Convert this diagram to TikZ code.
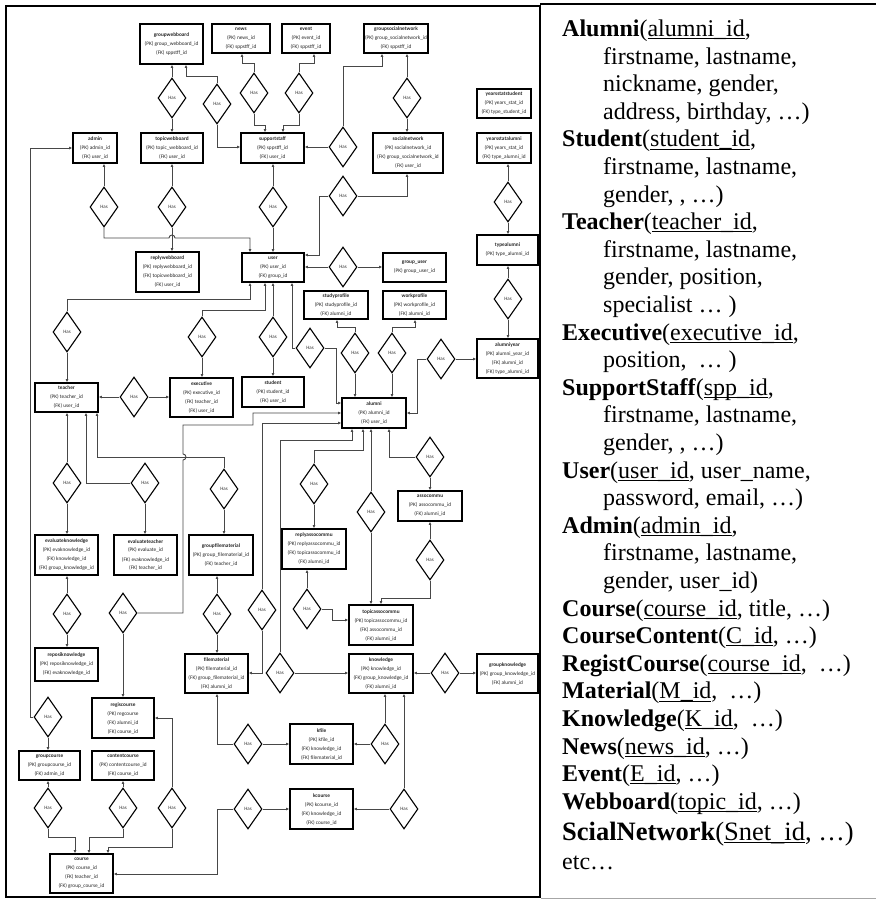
\documentclass[tikz,border=0pt]{standalone}
\usepackage{fontspec}
\setmainfont{Liberation Serif}
\newfontfamily\erfont{Carlito}
\usetikzlibrary{arrows.meta,shapes.geometric}

% underlined key attribute
\newcommand\ulid[1]{\setbox0\hbox{#1}\rlap{\rule[-2.6pt]{\wd0}{1pt}}\box0}

\tikzset{
  ent/.style={draw=black, line width=1.3pt, fill=white, inner sep=0pt, align=center,
              font=\erfont\fontsize{5.3}{9}\selectfont, text=black!85},
  relbox/.style={diamond, draw=black, line width=1.1pt, fill=white, inner sep=0pt,
              minimum width=28pt, minimum height=40pt,
              font=\erfont\fontsize{5}{6}\selectfont, text=black!80},
  link/.style={draw=black!72, line width=0.9pt},
  arr/.style={-{Latex[length=3.2pt,width=2.8pt]}},
  rtxt/.style={anchor=base west, inner sep=0pt, font=\fontsize{24}{27.6}\selectfont},
}

% entity box: name, x1, y1, x2, y2, text
\newcommand\entity[6]{\node[ent, minimum width={#4-#2}, minimum height={#5-#3}]
  (#1) at ({(#2+#4)/2},{(#3+#5)/2}) {#6};}
% relationship diamond: name, x, y
\newcommand\hasrel[3]{\node[relbox] (#1) at (#2,#3) {Has};}

\begin{document}
\begin{tikzpicture}[x=1pt,y=-1pt]
\useasboundingbox (0,0) rectangle (876,900);

% panel frames
\draw[line width=2.4pt] (6,6) rectangle (540,897);
\draw[line width=2pt] (540,4) -- (876,4);
\draw[black!35, line width=1pt] (541,898) -- (876,898);

% ---------- entities ----------
\entity{gwb}{140}{24}{203}{64}{\textbf{groupwebboard}\\(PK) group\_webboard\_id\\(FK) sppstff\_id}
\entity{news}{212}{24}{270}{53}{\textbf{news}\\(PK) news\_id\\(FK) sppstff\_id}
\entity{event}{282}{24}{330}{53}{\textbf{event}\\(PK) event\_id\\(FK) sppstff\_id}
\entity{gsn}{364}{24}{428}{53}{\textbf{groupsocialnetwork}\\(PK) group\_socialnetwork\_id\\(FK) sppstff\_id}
\entity{ystu}{477}{89}{531}{118}{\textbf{yearsstatstudent}\\(PK) years\_stat\_id\\(FK) type\_student\_id}
\entity{admin}{73}{133}{117}{163}{\textbf{admin}\\(PK) admin\_id\\(FK) user\_id}
\entity{twb}{141}{133}{203}{163}{\textbf{topicwebboard}\\(PK) topic\_webboard\_id\\(FK) user\_id}
\entity{ss}{241}{133}{304}{163}{\textbf{supportstaff}\\(PK) sppstff\_id\\(FK) user\_id}
\entity{sn}{373}{133}{443}{173}{\textbf{socialnetwork}\\(PK) socialnetwork\_id\\(FK) group\_socialnetwork\_id\\(FK) user\_id}
\entity{ysal}{477}{133}{531}{163}{\textbf{yearsstatalumni}\\(PK) years\_stat\_id\\(FK) type\_alumni\_id}
\entity{ta}{477}{235}{538}{265}{\textbf{typealumni}\\(PK) type\_alumni\_id}
\entity{rwb}{136}{252}{199}{292}{\textbf{replywebboard}\\(PK) replywebboard\_id\\(FK) topicwebboard\_id\\(FK) user\_id}
\entity{user}{242}{253}{304}{282}{\textbf{user}\\(PK) user\_id\\(FK) group\_id}
\entity{gu}{383}{253}{446}{282}{\textbf{group\_user}\\(PK) group\_user\_id}
\entity{sp}{304}{291}{368}{319}{\textbf{studyprofile}\\(PK) studyprofile\_id\\(FK) alumni\_id}
\entity{wp}{383}{291}{446}{319}{\textbf{workprofile}\\(PK) workprofile\_id\\(FK) alumni\_id}
\entity{ay}{477}{339}{538}{378}{\textbf{alumniyear}\\(PK) alumni\_year\_id\\(FK) alumni\_id\\(FK) type\_alumni\_id}
\entity{student}{242}{377}{304}{407}{\textbf{student}\\(PK) student\_id\\(FK) user\_id}
\entity{exec}{170}{378}{233}{417}{\textbf{executive}\\(PK) executive\_id\\(FK) teacher\_id\\(FK) user\_id}
\entity{teacher}{35}{383}{98}{412}{\textbf{teacher}\\(PK) teacher\_id\\(FK) user\_id}
\entity{alumni}{342}{398}{406}{428}{\textbf{alumni}\\(PK) alumni\_id\\(FK) user\_id}
\entity{ac}{398}{491}{462}{521}{\textbf{assocommu}\\(PK) assocommu\_id\\(FK) alumni\_id}
\entity{rac}{282}{529}{346}{569}{\textbf{replyassocommu}\\(PK) replyassocommu\_id\\(FK) topicassocommu\_id\\(FK) alumni\_id}
\entity{ek}{35}{535}{98}{575}{\textbf{evaluateknowledge}\\(PK) evaknowledge\_id\\(FK) knowledge\_id\\(FK) group\_knowledge\_id}
\entity{et}{114}{535}{177}{575}{\textbf{evaluateteacher}\\(PK) evaluate\_id\\(FK) evaknowledge\_id\\(FK) teacher\_id}
\entity{gfm}{189}{535}{253}{575}{\textbf{groupfilematerial}\\(PK) group\_filematerial\_id\\(FK) teacher\_id}
\entity{tac}{349}{605}{413}{645}{\textbf{topicassocommu}\\(PK) topicassocommu\_id\\(FK) assocommu\_id\\(FK) alumni\_id}
\entity{rk}{35}{648}{98}{681}{\textbf{reposiknowledge}\\(PK) reposiknowledge\_id\\(FK) evaknowledge\_id}
\entity{fm}{185}{654}{248}{693}{\textbf{filematerial}\\(PK) filematerial\_id\\(FK) group\_filematerial\_id\\(FK) alumni\_id}
\entity{kn}{349}{654}{413}{693}{\textbf{knowledge}\\(PK) knowledge\_id\\(FK) group\_knowledge\_id\\(FK) alumni\_id}
\entity{gk}{477}{654}{538}{693}{\textbf{groupknowledge}\\(PK) group\_knowledge\_id\\(FK) alumni\_id}
\entity{rc}{92}{698}{154}{738}{\textbf{regiscourse}\\(PK) regcourse\\(FK) alumni\_id\\(FK) course\_id}
\entity{kfile}{290}{724}{353}{764}{\textbf{kfile}\\(PK) kfile\_id\\(FK) knowledge\_id\\(FK) filematerial\_id}
\entity{gc}{19}{751}{80}{780}{\textbf{groupcourse}\\(PK) groupcourse\_id\\(FK) admin\_id}
\entity{cc}{92}{751}{154}{780}{\textbf{contentcourse}\\(PK) contentcourse\_id\\(FK) course\_id}
\entity{kcourse}{290}{789}{353}{829}{\textbf{kcourse}\\(PK) kcourse\_id\\(FK) knowledge\_id\\(FK) course\_id}
\entity{course}{50}{854}{113}{893}{\textbf{course}\\(PK) course\_id\\(FK) teacher\_id\\(FK) group\_course\_id}

% ---------- relationships ----------
\hasrel{d1}{172}{98}   \hasrel{d2}{217}{104}  \hasrel{d3}{254}{93}
\hasrel{d4}{299}{93}   \hasrel{d5}{343}{147}  \hasrel{d6}{407}{98}
\hasrel{d7}{343}{196}  \hasrel{d8}{104}{207}  \hasrel{d9}{172}{207}
\hasrel{d10}{273}{207} \hasrel{d11}{508}{202} \hasrel{d12}{343}{267}
\hasrel{d13}{508}{299} \hasrel{d14}{67}{332}  \hasrel{d15}{202}{337}
\hasrel{d16}{273}{337} \hasrel{d17}{310}{348} \hasrel{d18}{355}{353}
\hasrel{d19}{392}{353} \hasrel{d20}{441}{359} \hasrel{d21}{134}{397}
\hasrel{d22}{430}{457} \hasrel{d23}{314}{484} \hasrel{d24}{67}{483}
\hasrel{d25}{145}{483} \hasrel{d26}{224}{489} \hasrel{d27}{371}{512}
\hasrel{d28}{430}{560} \hasrel{d29}{307}{609} \hasrel{d30}{123}{613}
\hasrel{d31}{262}{610} \hasrel{d32}{217}{614} \hasrel{d33}{67}{614}
\hasrel{d34}{280}{673} \hasrel{d35}{445}{673} \hasrel{d36}{48}{717}
\hasrel{d37}{248}{744} \hasrel{d38}{385}{744} \hasrel{d39}{48}{808}
\hasrel{d40}{123}{808} \hasrel{d41}{172}{808} \hasrel{d42}{248}{809}
\hasrel{d43}{404}{809}

% ---------- connectors ----------
\draw[link,arr] (d1.north) -- (gwb.south -| d1);
\draw[link,arr] (d1.south) -- (twb.north -| d1);
\draw[link,arr] (d2.north) |- (186,76) -- (gwb.south -| 186,0);
\draw[link,arr] (d2.south) |- (ss.west |- 0,147);
\draw[link,arr] (d3.north) |- (242,63) -- (news.south -| 242,0);
\draw[link,arr] (d3.south) |- (265,125) -- (ss.north -| 265,0);
\draw[link,arr] (d4.north) |- (314,63) -- (event.south -| 314,0);
\draw[link,arr] (d4.south) |- (283,125) -- (ss.north -| 283,0);
\draw[link,arr] (d5.west) -- (ss.east |- d5);
\draw[link,arr] (d5.north) |- (382,66) -- (gsn.south -| 382,0);
\draw[link,arr] (d6.north) -- (gsn.south -| d6);
\draw[link,arr] (d6.south) -- (sn.north -| d6);
\draw[link,arr] (d7.east) -| (sn.south -| 407,0);
\draw[link,arr] (d7.west) -| (319,255) -- (user.east |- 0,255);
\draw[link,arr] (d8.north) -- (admin.south -| d8);
\draw[link,arr] (d8.south) -- (104,238) -- (169,238) arc (180:360:3) -- (250,238) -- (user.north -| 250,0);
\draw[link,arr] (d9.north) -- (twb.south -| d9);
\draw[link,arr] (d9.south) -- (rwb.north -| d9);
\draw[link,arr] (d10.north) -- (ss.south -| d10);
\draw[link,arr] (d10.south) -- (user.north -| d10);
\draw[link,arr] (d11.north) -- (ysal.south -| d11);
\draw[link,arr] (d11.south) -- (ta.north -| d11);
\draw[link,arr] (d12.west) -- (user.east |- d12);
\draw[link,arr] (d12.east) -- (gu.west |- d12);
\draw[link,arr] (d13.north) -- (ta.south -| d13);
\draw[link,arr] (d13.south) -- (ay.north -| d13);
\draw[link,arr] (d14.north) |- (250,299) -- (user.south -| 250,0);
\draw[link,arr] (d14.south) -- (teacher.north -| d14);
\draw[link,arr] (d15.north) |- (265,310) -- (user.south -| 265,0);
\draw[link,arr] (d15.south) -- (exec.north -| d15);
\draw[link,arr] (d16.north) -- (user.south -| d16);
\draw[link,arr] (d16.south) -- (student.north -| d16);
\draw[link,arr] (d17.west) -| (user.south -| 292,0);
\draw[link,arr] (d17.east) -| (336,403) -- (alumni.west |- 0,403);
\draw[link,arr] (d18.north) |- (337,327) -- (sp.south -| 337,0);
\draw[link,arr] (d18.south) -- (alumni.north -| d18);
\draw[link,arr] (d19.north) |- (415,327) -- (wp.south -| 415,0);
\draw[link,arr] (d19.south) -- (alumni.north -| d19);
\draw[link,arr] (d20.east) -- (ay.west |- d20);
\draw[link,arr] (d20.west) -| (417,413) -- (alumni.east |- 0,413);
\draw[link,arr] (d21.west) -- (teacher.east |- d21);
\draw[link,arr] (d21.east) -- (exec.west |- d21);
\draw[link,arr] (d22.west) -| (alumni.south -| 389,0);
\draw[link,arr] (d22.south) -- (ac.north -| d22);
\draw[link,arr] (d23.north) |- (363,450) -- (alumni.south -| 363,0);
\draw[link,arr] (d23.south) -- (rac.north -| d23);
\draw[link,arr] (d24.north) -- (teacher.south -| d24);
\draw[link,arr] (d24.south) -- (ek.north -| d24);
\draw[link,arr] (d25.west) -| (teacher.south -| 86,0);
\draw[link,arr] (d25.south) -- (et.north -| d25);
\draw[link,arr] (d26.north) |- (97,457) -- (teacher.south -| 97,0);
\draw[link,arr] (d26.south) -- (gfm.north -| d26);
\draw[link,arr] (d27.north) -- (alumni.south -| d27);
\draw[link,arr] (d27.south) -- (tac.north -| d27);
\draw[link,arr] (d28.north) -- (ac.south -| d28);
\draw[link,arr] (d28.south) |- (381,598) -- (tac.north -| 381,0);
\draw[link,arr] (d29.north) -- (rac.south -| d29);
\draw[link,arr] (d29.east) -| (332,620) -- (tac.west |- 0,620);
\draw[link,arr] (d30.east) -| (183,460) arc (90:-90:3) -- (183,425) -| (253,413) -- (alumni.west |- 0,413);
\draw[link,arr] (d30.south) -- (rc.north -| d30);
\draw[link,arr] (d31.north) |- (alumni.west |- 0,423);
\draw[link,arr] (d31.south) |- (fm.east |- 0,673);
\draw[link,arr] (d32.north) -- (gfm.south -| d32);
\draw[link,arr] (d32.south) -- (fm.north -| d32);
\draw[link,arr] (d33.north) -- (ek.south -| d33);
\draw[link,arr] (d33.south) -- (rk.north -| d33);
\draw[link,arr] (d34.north) |- (352,440) -- (alumni.south -| 352,0);
\draw[link,arr] (d34.east) -- (kn.west |- d34);
\draw[link,arr] (d35.west) -- (kn.east |- d35);
\draw[link,arr] (d35.east) -- (gk.west |- d35);
\draw[link,arr] (d36.west) -| (30,148) -- (admin.west |- 0,148);
\draw[link,arr] (d36.south) -- (gc.north -| d36);
\draw[link,arr] (d37.west) -| (fm.south -| 217,0);
\draw[link,arr] (d37.east) -- (kfile.west |- d37);
\draw[link,arr] (d38.west) -- (kfile.east |- d38);
\draw[link,arr] (d38.north) -- (kn.south -| d38);
\draw[link,arr] (d39.north) -- (gc.south -| d39);
\draw[link,arr] (d39.south) |- (75,837) -- (course.north -| 75,0);
\draw[link,arr] (d40.north) -- (cc.south -| d40);
\draw[link,arr] (d40.south) |- (89,837) -- (course.north -| 89,0);
\draw[link,arr] (d41.north) |- (rc.east |- 0,718);
\draw[link,arr] (d41.south) |- (108,847) -- (course.north -| 108,0);
\draw[link,arr] (d42.east) -- (kcourse.west |- d42);
\draw[link,arr] (d42.west) -| (217,874) -- (course.east |- 0,874);
\draw[link,arr] (d43.north) -- (kn.south -| d43);
\draw[link,arr] (d43.west) -- (kcourse.east |- d43);

% ---------- relational schema ----------
\node[rtxt] (t0)  at (562,36.5)  {\textbf{Alumni}(\ulid{alumni\_id},};
\node[rtxt] (t1)  at (603,64.1)  {firstname, lastname,};
\node[rtxt] (t2)  at (603,91.7)  {nickname, gender,};
\node[rtxt] (t3)  at (603,119.3) {address, birthday, …)};
\node[rtxt] (t4)  at (562,146.9) {\textbf{Student}(\ulid{student\_id},};
\node[rtxt] (t5)  at (603,174.5) {firstname, lastname,};
\node[rtxt] (t6)  at (603,202.1) {gender, , …)};
\node[rtxt] (t7)  at (562,229.7) {\textbf{Teacher}(\ulid{teacher\_id},};
\node[rtxt] (t8)  at (603,257.3) {firstname, lastname,};
\node[rtxt] (t9)  at (603,284.9) {gender, position,};
\node[rtxt] (t10) at (603,312.5) {specialist … )};
\node[rtxt] (t11) at (562,340.1) {\textbf{Executive}(\ulid{executive\_id},};
\node[rtxt] (t12) at (603,367.7) {position,\ \ … )};
\node[rtxt] (t13) at (562,395.3) {\textbf{SupportStaff}(\ulid{spp\_id},};
\node[rtxt] (t14) at (603,422.9) {firstname, lastname,};
\node[rtxt] (t15) at (603,450.5) {gender, , …)};
\node[rtxt] (t16) at (562,478.1) {\textbf{User}(\ulid{user\_id}, user\_name,};
\node[rtxt] (t17) at (603,505.7) {password, email, …)};
\node[rtxt] (t18) at (562,533.3) {\textbf{Admin}(\ulid{admin\_id},};
\node[rtxt] (t19) at (603,560.9) {firstname, lastname,};
\node[rtxt] (t20) at (603,588.5) {gender, user\_id)};
\node[rtxt] (t21) at (562,616.1) {\textbf{Course}(\ulid{course\_id}, title, …)};
\node[rtxt] (t22) at (562,643.7) {\textbf{CourseContent}(\ulid{C\_id}, …)};
\node[rtxt] (t23) at (562,671.3) {\textbf{RegistCourse}(\ulid{course\_id},\ \ …)};
\node[rtxt] (t24) at (562,698.9) {\textbf{Material}(\ulid{M\_id},\ \ …)};
\node[rtxt] (t25) at (562,726.5) {\textbf{Knowledge}(\ulid{K\_id},\ \ …)};
\node[rtxt] (t26) at (562,754.1) {\textbf{News}(\ulid{news\_id}, …)};
\node[rtxt] (t27) at (562,781.7) {\textbf{Event}(\ulid{E\_id}, …)};
\node[rtxt] (t28) at (562,809.3) {\textbf{Webboard}(\ulid{topic\_id}, …)};
\node[rtxt, font=\fontsize{26.5}{30}\selectfont] (t29) at (562,840) {\textbf{ScialNetwork}(\ulid{Snet\_id}, …)};
\node[rtxt] (t30) at (562,869) {etc…};
\end{tikzpicture}
\end{document}
